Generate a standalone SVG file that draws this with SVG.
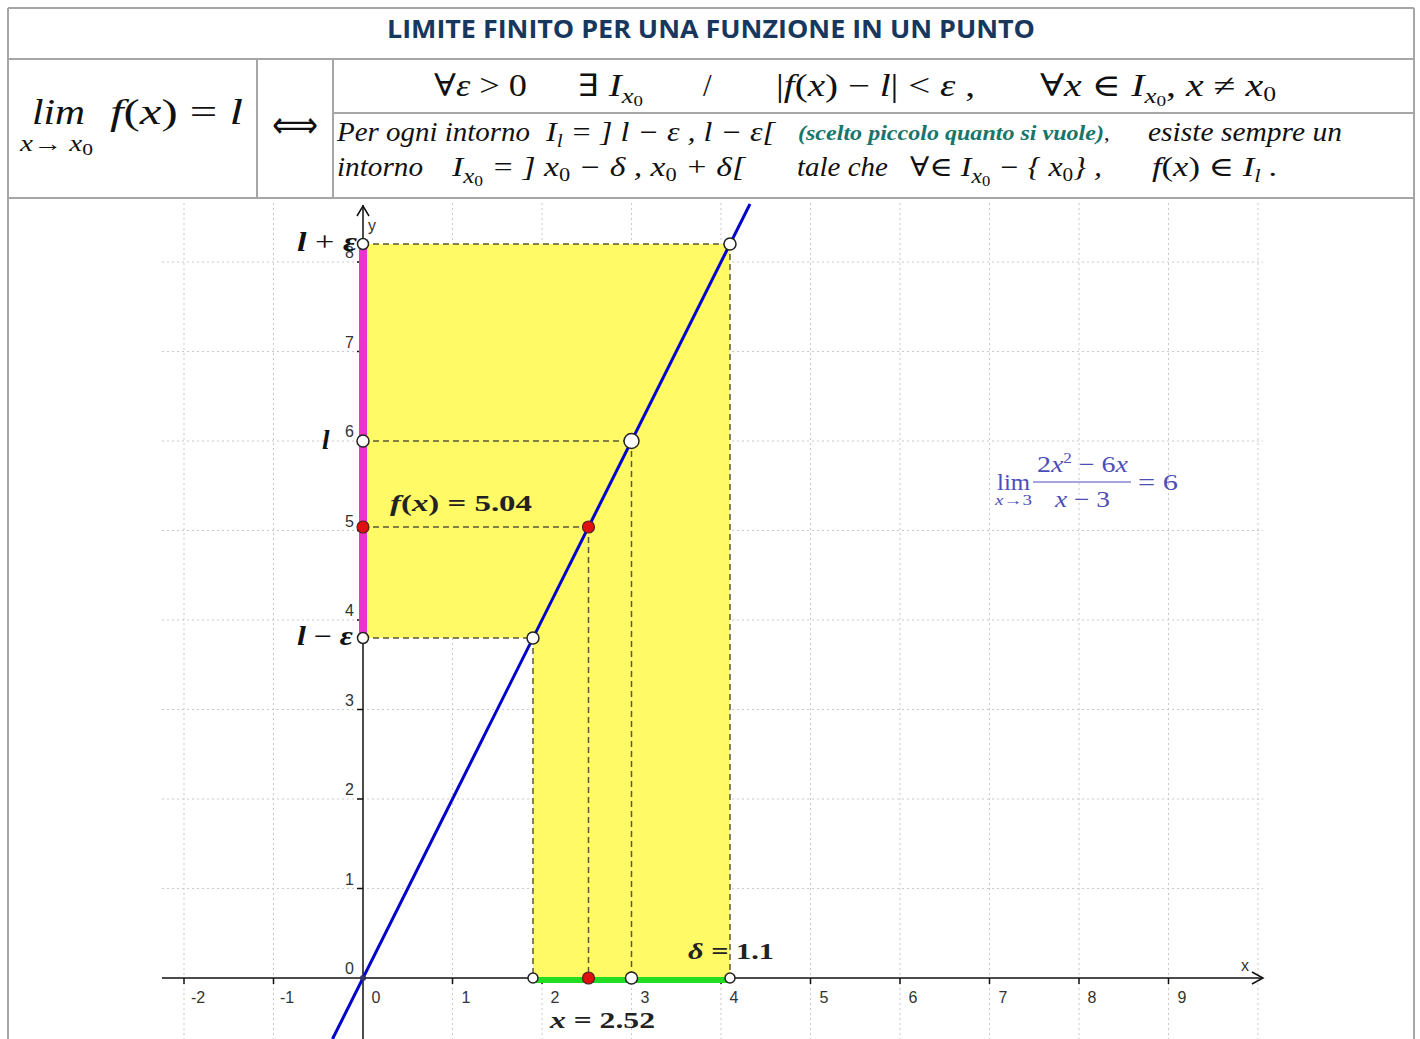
<svg xmlns="http://www.w3.org/2000/svg" width="1420" height="1039" viewBox="0 0 1420 1039">
<style>
.b{stroke:#a6a6a6;stroke-width:2;fill:none}
.m{font-family:"Liberation Serif","DejaVu Serif",serif;fill:#111}
.i{font-style:italic}
.grid{stroke:#c9c9c9;stroke-width:1;stroke-dasharray:2,3}
.ax{stroke:#111;stroke-width:1.5;fill:none}
.tk{font-family:"Liberation Sans",Arial,sans-serif;font-size:16px;fill:#333}
.dash{stroke:#5a5a3a;stroke-width:1.5;stroke-dasharray:6,4;fill:none}
.op{fill:#fff;stroke:#222;stroke-width:1.5}
.rd{fill:#e01010;stroke:#552222;stroke-width:1.2}
.lbl{font-family:"Liberation Serif","DejaVu Serif",serif;font-weight:bold;fill:#222}
.lim{font-family:"Liberation Serif","DejaVu Serif",serif;fill:#4d4db8}
</style>
<rect width="1420" height="1039" fill="#fff"/>

<g id="table">
<line class="b" x1="8" y1="8" x2="1414" y2="8"/>
<line class="b" x1="8" y1="8" x2="8" y2="1039"/>
<line class="b" x1="1414" y1="8" x2="1414" y2="1039"/>
<line class="b" x1="8" y1="59" x2="1414" y2="59"/>
<line class="b" x1="8" y1="198" x2="1414" y2="198"/>
<line class="b" x1="257" y1="59" x2="257" y2="198"/>
<line class="b" x1="333" y1="59" x2="333" y2="198"/>
<line class="b" x1="333" y1="113" x2="1414" y2="113"/>
</g>

<g id="title">
<text x="387" y="38" textLength="648" lengthAdjust="spacingAndGlyphs" font-family="'Open Sans','Liberation Sans',sans-serif" font-weight="bold" font-size="25" fill="#17375e">LIMITE FINITO PER UNA FUNZIONE IN UN PUNTO</text>
</g>

<g id="left-formula" class="m">
<text x="32" y="124" font-size="36" class="i" textLength="53" lengthAdjust="spacingAndGlyphs">lim</text>
<text x="110" y="124" font-size="36" textLength="133" lengthAdjust="spacingAndGlyphs"><tspan class="i">f</tspan>(<tspan class="i">x</tspan>) = <tspan class="i">l</tspan></text>
<text x="20" y="151" font-size="23" textLength="73" lengthAdjust="spacingAndGlyphs"><tspan class="i">x</tspan>→ <tspan class="i">x</tspan><tspan font-size="17" dy="4">0</tspan></text>
</g>

<g id="iff">
<text x="272" y="137" font-size="36" textLength="46" lengthAdjust="spacingAndGlyphs" font-family="'DejaVu Sans',sans-serif" fill="#111">⟺</text>
</g>

<g id="row1" class="m" font-size="31">
<text x="434" y="96" textLength="93" lengthAdjust="spacingAndGlyphs">∀<tspan class="i">ε</tspan> &gt; 0</text>
<text x="578" y="96" textLength="65" lengthAdjust="spacingAndGlyphs">∃ <tspan class="i">I</tspan><tspan class="i" font-size="21" dy="7">x</tspan><tspan font-size="15" dy="3">0</tspan></text>
<text x="703" y="96">/</text>
<text x="776" y="96" textLength="199" lengthAdjust="spacingAndGlyphs">|<tspan class="i">f</tspan>(<tspan class="i">x</tspan>) − <tspan class="i">l</tspan>| &lt; <tspan class="i">ε</tspan> ,</text>
<text x="1040" y="96" textLength="236" lengthAdjust="spacingAndGlyphs">∀<tspan class="i">x</tspan> ∈ <tspan class="i">I</tspan><tspan class="i" font-size="21" dy="7">x</tspan><tspan font-size="15" dy="3">0</tspan><tspan dy="-10">,   </tspan><tspan class="i">x</tspan> ≠ <tspan class="i">x</tspan><tspan font-size="20" dy="5">0</tspan></text>
</g>

<g id="row2" class="m i" font-size="27">
<text x="337" y="141" textLength="193" lengthAdjust="spacingAndGlyphs">Per ogni intorno</text>
<text x="546" y="141" textLength="229" lengthAdjust="spacingAndGlyphs">I<tspan font-size="18" dy="6">l</tspan><tspan dy="-6"> = ] l − ε ,  l − ε[</tspan></text>
<text x="798" y="140" font-size="21" font-weight="bold" fill="#17756a" textLength="306" lengthAdjust="spacingAndGlyphs">(scelto piccolo quanto si vuole)</text>
<text x="1104" y="140" font-size="22" font-style="normal">,</text>
<text x="1148" y="141" textLength="194" lengthAdjust="spacingAndGlyphs">esiste sempre un</text>
<text x="337" y="176" textLength="86" lengthAdjust="spacingAndGlyphs">intorno</text>
<text x="452" y="176" textLength="293" lengthAdjust="spacingAndGlyphs">I<tspan font-size="20" dy="7">x</tspan><tspan font-size="14" dy="3" font-style="normal">0</tspan><tspan dy="-10">  = ] x</tspan><tspan font-size="18" dy="5" font-style="normal">0</tspan><tspan dy="-5"> − δ ,  x</tspan><tspan font-size="18" dy="5" font-style="normal">0</tspan><tspan dy="-5"> + δ[</tspan></text>
<text x="797" y="176" textLength="91" lengthAdjust="spacingAndGlyphs">tale che</text>
<text x="910" y="176" textLength="192" lengthAdjust="spacingAndGlyphs"><tspan font-style="normal">∀∈ </tspan>I<tspan font-size="20" dy="7">x</tspan><tspan font-size="14" dy="3" font-style="normal">0</tspan><tspan dy="-10"> − { x</tspan><tspan font-size="18" dy="5" font-style="normal">0</tspan><tspan dy="-5">} ,</tspan></text>
<text x="1152" y="176" textLength="126" lengthAdjust="spacingAndGlyphs">f<tspan font-style="normal">(</tspan>x<tspan font-style="normal">) ∈ </tspan>I<tspan font-size="18" dy="6">l</tspan><tspan dy="-6"> .</tspan></text>
</g>

<g id="grid">
<path class="grid" d="M162 888.5H1263M162 799H1263M162 709.5H1263M162 620H1263M162 530.5H1263M162 441H1263M162 351.5H1263M162 262H1263"/>
<path class="grid" d="M184 203V1039M273.5 203V1039M452.5 203V1039M542 203V1039M631.5 203V1039M721 203V1039M810.5 203V1039M900 203V1039M989.5 203V1039M1079 203V1039M1168.5 203V1039M1258 203V1039"/>
</g>

<g id="region">
<polygon points="363,244 730,244 730,978 533,978 533,638 363,638" fill="#fffa66"/>
</g>

<g id="axes">
<line class="ax" x1="162" y1="978" x2="1263" y2="978"/>
<line class="ax" x1="363" y1="205" x2="363" y2="1039"/>
<polyline class="ax" points="357,216 363,206 369,216"/>
<polyline class="ax" points="1252,972 1263,978 1252,984"/>
<path class="ax" stroke-width="1.2" d="M184 978v6M273.5 978v6M452.5 978v6M542 978v6M631.5 978v6M721 978v6M810.5 978v6M900 978v6M989.5 978v6M1079 978v6M1168.5 978v6M357 888.5h6M357 799h6M357 709.5h6M357 620h6M357 530.5h6M357 441h6M357 351.5h6M357 262h6"/>
<text class="tk" x="1241" y="971">x</text>
<text class="tk" x="368" y="231">y</text>
<g text-anchor="middle">
<text class="tk" x="198" y="1003">-2</text>
<text class="tk" x="287" y="1003">-1</text>
<text class="tk" x="376" y="1003">0</text>
<text class="tk" x="466" y="1003">1</text>
<text class="tk" x="555" y="1003">2</text>
<text class="tk" x="645" y="1003">3</text>
<text class="tk" x="734" y="1003">4</text>
<text class="tk" x="824" y="1003">5</text>
<text class="tk" x="913" y="1003">6</text>
<text class="tk" x="1003" y="1003">7</text>
<text class="tk" x="1092" y="1003">8</text>
<text class="tk" x="1182" y="1003">9</text>
</g>
<g text-anchor="end">
<text class="tk" x="354" y="974">0</text>
<text class="tk" x="354" y="885">1</text>
<text class="tk" x="354" y="795">2</text>
<text class="tk" x="354" y="706">3</text>
<text class="tk" x="354" y="616">4</text>
<text class="tk" x="354" y="527">5</text>
<text class="tk" x="354" y="437">6</text>
<text class="tk" x="354" y="348">7</text>
<text class="tk" x="354" y="258">8</text>
</g>
</g>

<g id="intervals">
<line x1="363" y1="244" x2="363" y2="638" stroke="#f032cc" stroke-width="8"/>
<line x1="533" y1="980" x2="730" y2="980" stroke="#22dd22" stroke-width="6"/>
</g>

<g id="connectors">
<line class="dash" x1="363" y1="244" x2="730" y2="244"/>
<line class="dash" x1="730" y1="244" x2="730" y2="978"/>
<line class="dash" x1="363" y1="441" x2="631.5" y2="441"/>
<line class="dash" x1="363" y1="638" x2="533" y2="638"/>
<line class="dash" x1="533" y1="638" x2="533" y2="978"/>
<line class="dash" x1="363" y1="527" x2="588.5" y2="527"/>
<line class="dash" x1="588.5" y1="527" x2="588.5" y2="978"/>
<line class="dash" x1="631.5" y1="441" x2="631.5" y2="978" stroke="#b03a3a"/>
</g>

<g id="function">
<line x1="332.5" y1="1039" x2="750" y2="204" stroke="#0000cc" stroke-width="3"/>
</g>

<g id="points">
<circle class="op" cx="363" cy="244" r="5.5"/>
<circle class="op" cx="730" cy="244" r="6"/>
<circle class="op" cx="363" cy="441" r="6"/>
<circle class="op" cx="631.5" cy="441" r="7.5"/>
<circle class="op" cx="363" cy="638" r="5.5"/>
<circle class="op" cx="533" cy="638" r="6"/>
<circle class="op" cx="533" cy="978" r="5"/>
<circle class="op" cx="631.5" cy="978" r="6"/>
<circle class="op" cx="730" cy="978" r="5"/>
<circle class="rd" cx="363" cy="527" r="6"/>
<circle class="rd" cx="588.5" cy="527" r="6"/>
<circle class="rd" cx="588.5" cy="978" r="6"/>
<circle cx="363" cy="978" r="3" fill="#333366"/>
</g>

<g id="labels">
<text class="m i" x="297" y="251" font-size="27" font-weight="bold" textLength="60" lengthAdjust="spacingAndGlyphs">l <tspan font-style="normal" font-weight="normal">+</tspan> ε</text>
<text class="m i" x="322" y="449" font-size="27" font-weight="bold">l</text>
<text class="m i" x="297" y="645" font-size="27" font-weight="bold" textLength="56" lengthAdjust="spacingAndGlyphs">l <tspan font-style="normal" font-weight="normal">−</tspan> ε</text>
<text class="lbl" x="390" y="511" font-size="24" textLength="142" lengthAdjust="spacingAndGlyphs"><tspan font-style="italic">f</tspan>(<tspan font-style="italic">x</tspan>) = 5.04</text>
<text class="lbl" x="688" y="959" font-size="24" textLength="86" lengthAdjust="spacingAndGlyphs"><tspan font-style="italic">δ</tspan> = 1.1</text>
<text class="lbl" x="550" y="1028" font-size="24" textLength="105" lengthAdjust="spacingAndGlyphs"><tspan font-style="italic">x</tspan> = 2.52</text>
</g>

<g id="limit">
<text class="lim" x="997" y="490" font-size="23" textLength="33" lengthAdjust="spacingAndGlyphs">lim</text>
<text class="lim" x="995" y="505" font-size="14" textLength="37" lengthAdjust="spacingAndGlyphs"><tspan font-style="italic">x</tspan>→3</text>
<text class="lim" x="1037" y="472" font-size="23" textLength="91" lengthAdjust="spacingAndGlyphs">2<tspan font-style="italic">x</tspan><tspan font-size="14" dy="-9">2</tspan><tspan dy="9"> − 6</tspan><tspan font-style="italic">x</tspan></text>
<line x1="1033" y1="482" x2="1131" y2="482" stroke="#4d4db8" stroke-width="1.2"/>
<text class="lim" x="1055" y="507" font-size="23" textLength="55" lengthAdjust="spacingAndGlyphs"><tspan font-style="italic">x</tspan> − 3</text>
<text class="lim" x="1138" y="490" font-size="23" textLength="40" lengthAdjust="spacingAndGlyphs">= 6</text>
</g>
</svg>
